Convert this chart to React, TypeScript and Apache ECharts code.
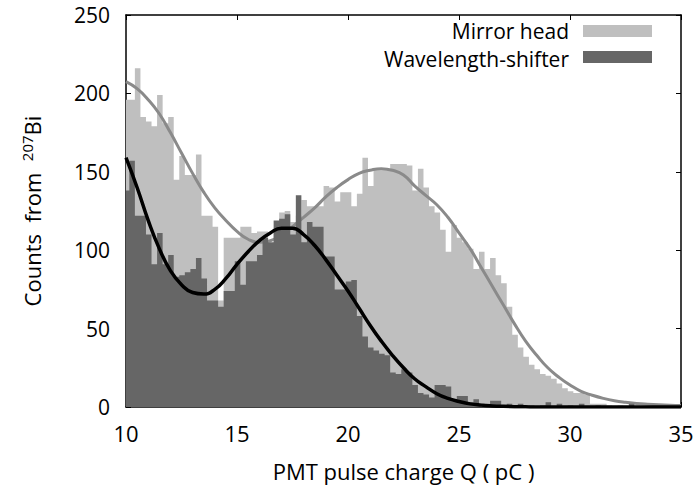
import React, { useEffect, useRef } from "react";
import * as echarts from "echarts";

// Histogram binning (pC)
const binStart = 9.9;
const binWidth = 0.25;

// Counts per 0.25 pC bin — Mirror head (light grey)
const mirrorCounts = [
  196, 196, 216, 185, 182, 179, 199, 181, 185, 145,
  160, 148, 148, 161, 122, 122, 115, 68, 108, 108,
  108, 115, 115, 111, 112, 112, 104, 112, 124, 125,
  118, 122, 132, 128, 128, 128, 141, 140, 131, 137,
  137, 128, 136, 159, 141, 151, 151, 151, 155, 155,
  155, 154, 138, 152, 140, 128, 124, 113, 99, 116,
  108, 105, 101, 88, 99, 88, 95, 84, 79, 64,
  46, 38, 32, 27, 24, 21, 20, 18, 15, 12,
  10, 9, 9, 8, 2, 2, 2, 1, 0, 1,
  0, 0, 1, 0, 0, 0, 0, 0, 0, 0,
];

// Counts per 0.25 pC bin — Wavelength-shifter (dark grey)
const wlsCounts = [
  138, 157, 122, 122, 110, 91, 111, 91, 97, 83,
  84, 86, 88, 95, 82, 68, 68, 64, 74, 74,
  93, 78, 93, 93, 97, 108, 105, 119, 120, 123,
  110, 135, 105, 118, 115, 115, 96, 96, 75, 75,
  80, 81, 58, 45, 38, 36, 34, 33, 22, 21,
  24, 22, 14, 9, 8, 6, 14, 14, 13, 5,
  7, 7, 3, 5, 2, 1, 4, 4, 1, 2,
  1, 2, 0, 1, 0, 1, 3, 0, 2, 0,
  1, 0, 2, 0, 0, 1, 0, 0, 0, 0,
  0, 2, 0, 0, 0, 0, 0, 0, 0, 0,
];

// Fitted curves, read at 0.5 pC steps
const curveQ = [
  10, 10.5, 11, 11.5, 12, 12.5, 13, 13.5, 14, 14.5,
  15, 15.5, 16, 16.5, 17, 17.5, 18, 18.5, 19, 19.5,
  20, 20.5, 21, 21.5, 22, 22.5, 23, 23.5, 24, 24.5,
  25, 25.5, 26, 26.5, 27, 27.5, 28, 28.5, 29, 29.5,
  30, 30.5, 31, 31.5, 32, 32.5, 33, 33.5, 34, 34.5, 35,
];
const mirrorFit = [
  207.5, 203, 196, 187, 175, 162, 149, 137, 127, 119,
  112, 107, 105, 106, 110, 115, 121, 127, 134, 140,
  145, 149, 151, 152, 151, 148, 141, 135, 129, 121,
  111, 101, 89, 77, 65, 53, 42, 33, 25, 19,
  14, 10, 7.5, 5.5, 4, 3, 2.3, 1.8, 1.4, 1.1, 0.9,
];
const wlsFit = [
  159, 140, 119, 101, 87, 78, 73, 72, 75, 82,
  91, 99, 106, 111, 114, 114, 110, 103, 94, 84,
  74, 63, 52, 42, 33, 25, 18, 13, 8.5, 5.5,
  3.5, 2, 1.2, 0.7, 0.4, 0.2, 0.1, 0, 0, 0,
  0, 0, 0, 0, 0, 0, 0, 0, 0, 0, 0,
];

const seriesNames = ["Mirror head", "Wavelength-shifter"];
const lightColor = "#bfbfbf";
const darkColor = "#666666";
const FONT = "Open Sans";
const FS = 22;

function histData(counts: number[]) {
  const pts: [number, number][] = counts.map((v, i) => [binStart + i * binWidth, v]);
  pts.push([binStart + counts.length * binWidth, counts[counts.length - 1]]);
  return pts;
}

function curveData(ys: number[]) {
  return curveQ.map((q, i) => [q, ys[i]]);
}

export default function App() {
  const ref = useRef<HTMLDivElement>(null);
  useEffect(() => {
    document.body.style.margin = "0";
    if (!ref.current) return;
    const chart = echarts.init(ref.current, undefined, { renderer: "svg" });
    const axisCommonX = {
      type: "value" as const,
      min: 10,
      max: 35,
      interval: 5,
      splitLine: { show: false },
    };
    const axisCommonY = {
      type: "value" as const,
      min: 0,
      max: 250,
      interval: 50,
      splitLine: { show: false },
    };
    const line = { show: true, onZero: false, lineStyle: { color: "#000", width: 1.5 } };
    const tick = { show: true, inside: true, length: 5, lineStyle: { color: "#000", width: 1 } };
    chart.setOption({
      animation: false,
      backgroundColor: "#ffffff",
      grid: { left: 126, right: 16, top: 15, bottom: 83, containLabel: false },
      xAxis: [
        {
          ...axisCommonX,
          position: "bottom",
          axisLine: line,
          axisTick: tick,
          axisLabel: { fontSize: FS, color: "#000", fontFamily: FONT, margin: 15 },
          name: "PMT pulse charge Q ( pC )",
          nameLocation: "middle",
          nameGap: 53,
          nameTextStyle: { fontSize: FS, color: "#000", fontFamily: FONT },
        },
        {
          ...axisCommonX,
          position: "top",
          axisLine: line,
          axisTick: tick,
          axisLabel: { show: false },
        },
      ],
      yAxis: [
        {
          ...axisCommonY,
          position: "left",
          axisLine: line,
          axisTick: tick,
          axisLabel: { fontSize: 21, lineHeight: 20, color: "#000", fontFamily: FONT, margin: 16 },
          name: "{a|Counts  from  }{s|207}{a|Bi}",
          nameLocation: "middle",
          nameGap: 83,
          nameRotate: 90,
          nameTextStyle: {
            rich: {
              a: { fontSize: FS, fontFamily: FONT, color: "#000", lineHeight: 24, verticalAlign: "bottom" },
              s: { fontSize: 15, fontFamily: FONT, color: "#000", lineHeight: 15, verticalAlign: "top" },
            },
          },
        },
        {
          ...axisCommonY,
          position: "right",
          axisLine: line,
          axisTick: tick,
          axisLabel: { show: false },
        },
      ],
      series: [
        {
          name: seriesNames[0],
          type: "line",
          step: "end",
          data: histData(mirrorCounts),
          xAxisIndex: 0,
          yAxisIndex: 0,
          symbol: "none",
          lineStyle: { width: 0, color: lightColor },
          itemStyle: { color: lightColor },
          areaStyle: { color: lightColor, opacity: 1 },
          z: 1,
        },
        {
          name: seriesNames[0] + " fit",
          type: "line",
          smooth: true,
          data: curveData(mirrorFit),
          xAxisIndex: 0,
          yAxisIndex: 0,
          symbol: "none",
          lineStyle: { width: 3, color: "#8a8a8a" },
          z: 2,
        },
        {
          name: seriesNames[1],
          type: "line",
          step: "end",
          data: histData(wlsCounts),
          xAxisIndex: 0,
          yAxisIndex: 0,
          symbol: "none",
          lineStyle: { width: 0, color: darkColor },
          itemStyle: { color: darkColor },
          areaStyle: { color: darkColor, opacity: 1 },
          z: 3,
        },
        {
          name: seriesNames[1] + " fit",
          type: "line",
          smooth: true,
          data: curveData(wlsFit),
          xAxisIndex: 0,
          yAxisIndex: 0,
          symbol: "none",
          lineStyle: { width: 3.5, color: "#000000" },
          z: 4,
        },
      ],
      graphic: [
        {
          type: "text",
          right: 697 - 569,
          top: 20,
          style: { text: seriesNames[0], fontSize: 21, lineHeight: 21, fontFamily: FONT, fill: "#000", textAlign: "right" },
          z: 10,
        },
        {
          type: "rect",
          shape: { x: 583, y: 25, width: 69, height: 12 },
          style: { fill: lightColor },
          z: 10,
        },
        {
          type: "text",
          right: 697 - 569,
          top: 48,
          style: { text: seriesNames[1], fontSize: 21, lineHeight: 21, fontFamily: FONT, fill: "#000", textAlign: "right" },
          z: 10,
        },
        {
          type: "rect",
          shape: { x: 583, y: 51, width: 69, height: 12 },
          style: { fill: darkColor },
          z: 10,
        },
      ],
    });
    return () => chart.dispose();
  }, []);
  return <div ref={ref} style={{ width: 697, height: 490 }} />;
}
